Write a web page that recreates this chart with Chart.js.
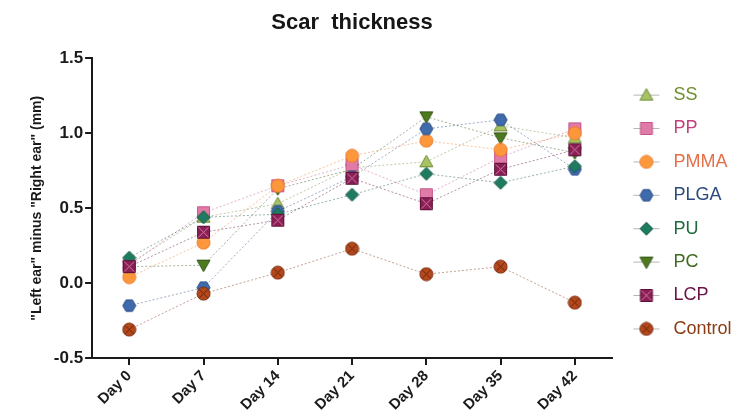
<!DOCTYPE html>
<html>
<head>
<meta charset="utf-8">
<script src="https://cdn.jsdelivr.net/npm/chart.js@4/dist/chart.umd.min.js"></script>
<style>
  html, body { margin: 0; padding: 0; background: #fff; }
  #wrap { width: 736px; height: 420px; }
</style>
</head>
<body>
<div id="wrap"><canvas id="scarChart"></canvas></div>
<script>
const days = ["Day 0", "Day 7", "Day 14", "Day 21", "Day 28", "Day 35", "Day 42"];
const yTicks = [-0.5, 0.0, 0.5, 1.0, 1.5];

const ss      = [0.13, 0.44, 0.53, 0.77, 0.81, 1.05, 0.97];
const pp      = [0.12, 0.47, 0.65, 0.79, 0.59, 0.84, 1.03];
const pmma    = [0.04, 0.27, 0.65, 0.85, 0.95, 0.89, 1.00];
const plga    = [-0.15, -0.03, 0.48, 0.71, 1.03, 1.09, 0.76];
const pu      = [0.17, 0.44, 0.46, 0.59, 0.73, 0.67, 0.78];
const pc      = [0.11, 0.12, 0.63, 0.76, 1.11, 0.97, 0.87];
const lcp     = [0.11, 0.34, 0.42, 0.70, 0.53, 0.76, 0.89];
const control = [-0.31, -0.07, 0.07, 0.23, 0.06, 0.11, -0.13];

// name, values, marker shape, fill, edge, text colour, stacking (higher = on top)
const series = [
  ["SS", ss, "triUp", "#a7c163", "#6f8c35", "#6e8f2a", 2],
  ["PP", pp, "square", "#e07aa6", "#c4548a", "#c2417c", 3],
  ["PMMA", pmma, "circle", "#fd973c", "#ee7d2a", "#e46f48", 4],
  ["PLGA", plga, "hexagon", "#3f6aac", "#2b4c84", "#2c4a7e", 5],
  ["PU", pu, "diamond", "#1f7b60", "#145a45", "#1d6a3d", 6],
  ["PC", pc, "triDown", "#4d7a1f", "#34561a", "#3d6a1f", 1],
  ["LCP", lcp, "squareX", "#8a1f55", "#5c0f37", "#6a1244", 7],
  ["Control", control, "circleX", "#b3481c", "#7c2c10", "#8a3b13", 8]
];

const FONT = "'Liberation Sans', Arial, sans-serif";

// marker glyph drawn into a small canvas, used as the Chart.js pointStyle
function makeMarker(shape, fill, edge, withLine) {
  const size = 15;
  const c = document.createElement("canvas");
  c.width = withLine ? 52 : size;
  c.height = size;
  const g = c.getContext("2d");
  const cx = withLine ? 17 : size / 2;
  const cy = size / 2;
  if (withLine) {
    g.strokeStyle = "rgba(150,150,150,0.7)";
    g.lineWidth = 1;
    g.beginPath();
    g.moveTo(4, cy);
    g.lineTo(30, cy);
    g.stroke();
  }
  g.fillStyle = fill;
  g.strokeStyle = edge;
  g.lineWidth = 1;
  g.beginPath();
  if (shape === "triUp") {
    g.moveTo(cx, cy - 6.5); g.lineTo(cx + 6.5, cy + 5); g.lineTo(cx - 6.5, cy + 5); g.closePath();
  } else if (shape === "triDown") {
    g.moveTo(cx, cy + 6.5); g.lineTo(cx + 6.5, cy - 5); g.lineTo(cx - 6.5, cy - 5); g.closePath();
  } else if (shape === "square" || shape === "squareX") {
    g.rect(cx - 6, cy - 6, 12, 12);
  } else if (shape === "diamond") {
    g.moveTo(cx, cy - 6.5); g.lineTo(cx + 6.5, cy); g.lineTo(cx, cy + 6.5); g.lineTo(cx - 6.5, cy); g.closePath();
  } else if (shape === "hexagon") {
    for (let i = 0; i < 6; i++) {
      const a = Math.PI / 3 * i;
      g.lineTo(cx + 6.5 * Math.cos(a), cy + 6.5 * Math.sin(a));
    }
    g.closePath();
  } else {
    g.arc(cx, cy, 6.5, 0, Math.PI * 2);
  }
  g.fill();
  g.stroke();
  if (shape === "squareX" || shape === "circleX") {
    const d = shape === "squareX" ? 5 : 4;
    g.strokeStyle = shape === "squareX" ? "#d47aa5" : "#6e2408";
    g.beginPath();
    g.moveTo(cx - d, cy - d); g.lineTo(cx + d, cy + d);
    g.moveTo(cx + d, cy - d); g.lineTo(cx - d, cy + d);
    g.stroke();
  }
  return c;
}

function withAlpha(hex, a) {
  const n = parseInt(hex.slice(1), 16);
  return `rgba(${n >> 16}, ${(n >> 8) & 255}, ${n & 255}, ${a})`;
}

// Chart.js draws lower `order` last, so invert the stacking rank
const datasets = series.map(([name, values, shape, fill, edge, , rank]) => ({
  label: name,
  data: values,
  order: 10 - rank,
  borderColor: withAlpha(edge, 0.45),
  borderWidth: 1,
  borderDash: [2, 2],
  tension: 0,
  fill: false,
  pointStyle: makeMarker(shape, fill, edge, false),
  pointRadius: 6,
}));

const legendIcons = series.map(([, , shape, fill, edge]) => makeMarker(shape, fill, edge, true));

const ctx = document.getElementById("scarChart");
new Chart(ctx, {
  type: "line",
  data: { labels: days, datasets },
  options: {
    responsive: true,
    maintainAspectRatio: false,
    animation: false,
    layout: { padding: { left: 29, right: 0, top: 8, bottom: 4 } },
    plugins: {
      title: {
        display: true,
        text: "Scar  thickness",
        color: "#161616",
        fullSize: false,
        font: { size: 22, weight: "bold", family: FONT },
        padding: { top: 2, bottom: 22 },
      },
      legend: {
        position: "right",
        maxWidth: 105,
        labels: {
          usePointStyle: true,
          padding: 15.4,
          font: { size: 18, family: FONT },
          generateLabels: () => series.map(([name, , , , , textColor], i) => ({
            text: name,
            fontColor: textColor,
            pointStyle: legendIcons[i],
            datasetIndex: i,
            hidden: false,
            lineWidth: 0,
          })),
        },
        onClick: null,
      },
      tooltip: { enabled: false },
    },
    scales: {
      x: {
        offset: true,
        grid: { drawOnChartArea: false, drawTicks: true, tickLength: 7, color: "#1a1a1a", lineWidth: 2, offset: false },
        border: { color: "#1a1a1a", width: 2 },
        ticks: {
          color: "#1a1a1a",
          maxRotation: 45,
          minRotation: 45,
          padding: 2,
          font: { size: 15, weight: "bold", family: FONT },
        },
      },
      y: {
        min: -0.5,
        max: 1.5,
        afterBuildTicks: (scale) => { scale.ticks = yTicks.map(v => ({ value: v })); },
        grid: { drawOnChartArea: false, drawTicks: true, tickLength: 7, color: "#1a1a1a", lineWidth: 2 },
        border: { color: "#1a1a1a", width: 2 },
        ticks: {
          color: "#1a1a1a",
          padding: 2,
          callback: (v) => Number(v).toFixed(1),
          font: { size: 17, weight: "bold", family: FONT },
        },
        title: {
          display: true,
          text: "\"Left ear\" minus \"Right ear\" (mm)",
          color: "#1a1a1a",
          padding: { top: 0, bottom: 6 },
          font: { size: 14, weight: "bold", family: FONT },
        },
      },
      // empty spacer between the plot and the legend
      gap: {
        type: "linear",
        position: "right",
        display: true,
        grid: { display: false },
        border: { display: false },
        ticks: { display: false },
        afterFit: (scale) => { scale.width = 19; },
      },
    },
  },
});
</script>
</body>
</html>
